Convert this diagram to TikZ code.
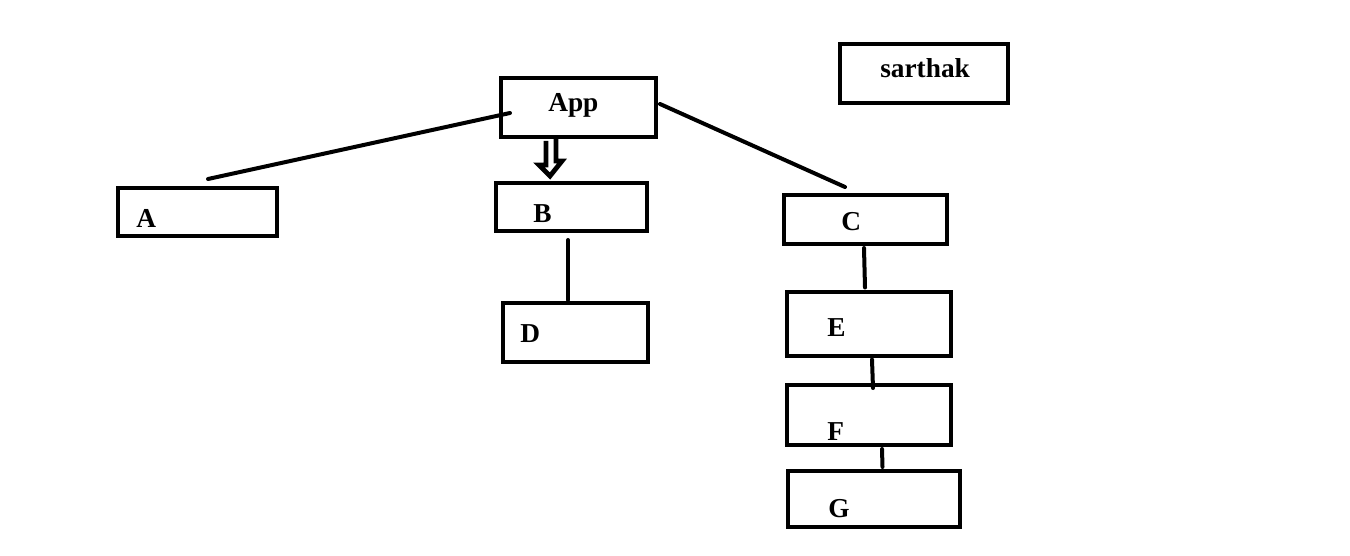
\documentclass[tikz,border=0pt]{standalone}
\usepackage{fontspec}
\setmainfont{Liberation Serif}
\usetikzlibrary{calc,arrows.meta}
\begin{document}
\begin{tikzpicture}[x=0.75pt,y=-0.75pt,
  box/.style={draw,line width=3pt,inner sep=0pt,minimum width=#1},
  lbl/.style={anchor=base west,inner sep=0pt,font=\fontsize{20.5pt}{24pt}\selectfont\bfseries},
  conn/.style={line width=3pt,line cap=round},
  hollow/.style={line width=3.6pt,line join=miter}]
\useasboundingbox (0,0) rectangle (1350,556);
% boxes
\node[box=116.25pt,minimum height=44.25pt] (App) at (578.5,107.5) {};
\node[box=126pt,minimum height=44.25pt] (S) at (924,73.5) {};
\node[box=119.25pt,minimum height=36pt] (A) at (197.5,212) {};
\node[box=113.25pt,minimum height=36pt] (B) at (571.5,207) {};
\node[box=122.25pt,minimum height=36.75pt] (C) at (865.5,219.5) {};
\node[box=108.75pt,minimum height=44.25pt] (D) at (575.5,332.5) {};
\node[box=123pt,minimum height=48pt] (E) at (868.5,323.5) {};
\node[box=123pt,minimum height=45pt] (F) at (868.5,415) {};
\node[box=129pt,minimum height=42pt] (G) at (873.5,499) {};
% labels
\node[lbl] (tApp) at (548,112) {App};
\node[lbl] (tS) at (880,78) {sarthak};
\node[lbl] (tA) at (136,228) {A};
\node[lbl] (tB) at (533,223) {B};
\node[lbl] (tC) at (841,230) {C};
\node[lbl] (tD) at (520,342) {D};
\node[lbl] (tE) at (827,336) {E};
\node[lbl] (tF) at (827,440) {F};
\node[lbl] (tG) at (828,517) {G};
% connectors
\draw[conn] ($(App.west)+(11,5.5)$) -- ($(A.north)+(10.5,-7)$);
\draw[conn] ($(App.east)+(2,-3.5)$) -- ($(C.north)+(-20.5,-6)$);
\draw[hollow] ($(App.south)+(-32.5,2)$) -- ++(0,24) -- ++(-7,0) -- ($(B.north)+(-21.5,-5)$) -- ++(12,-15) -- ++(-6,0) -- ++(0,-24);
\draw[conn] ($(B.south)+(-3.5,7)$) -- ($(D.north)+(-7.5,-1)$);
\draw[conn] ($(C.south)+(-1.5,2)$) -- ($(E.north)+(-3.5,-2)$);
\draw[conn] ($(E.south)+(3.5,2)$) -- ($(F.north)+(4.5,5)$);
\draw[conn] ($(F.south)+(13.5,2)$) -- ($(G.north)+(9,-2)$);
\end{tikzpicture}
\end{document}
